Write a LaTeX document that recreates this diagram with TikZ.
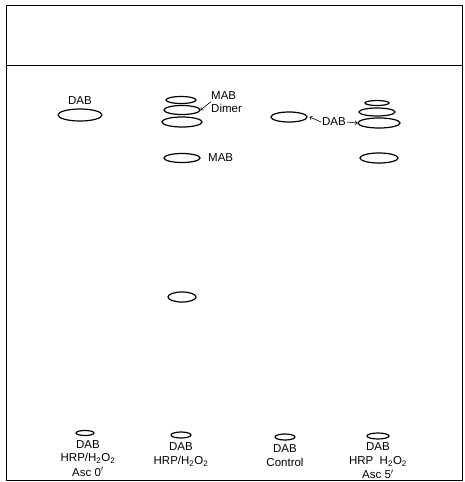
\documentclass[tikz,border=0pt]{standalone}
\usepackage{fontspec}
\setmainfont{Liberation Sans}
\usetikzlibrary{arrows.meta,positioning,shapes.geometric}

\begin{document}
\begin{tikzpicture}[x=1pt, y=-1pt,
  every node/.style={font=\fontsize{11.5}{13.5}\selectfont, inner sep=0pt},
  spot/.style args={#1x#2}{draw, ellipse, line width=1.2pt, minimum width=#1pt, minimum height=#2pt, inner sep=0pt},
  lane/.style={align=center},
  arrow/.style={-{Straight Barb[length=2pt]}, line width=0.6pt}
]
\useasboundingbox (0,0) rectangle (464,482);
% plate frame and solvent front
\draw[line width=1pt] (6,5) rectangle (462,480);
\draw[line width=1pt] (6,65) -- (462,65);

% lane 1
\node[spot=44x12] (a1) at (80,115) {};
\node[above=4pt of a1] (dabA) {DAB};

% lane 2
\node[spot=30x7] (b1) at (181,100) {};
\node[spot=36x9] (b2) at (182,110) {};
\node[spot=40x10] (b3) at (182,122) {};
\node[spot=36x9] (b4) at (182,158) {};
\node[spot=28x10] (b5) at (182,297) {};
\node[anchor=west] (mabtop) at (211,96) {MAB};
\node[anchor=west] (dimer) at (211,108) {Dimer};
\node[anchor=west] (mab) at (208,158) {MAB};

% lane 3
\node[spot=36x10] (c1) at (289,117) {};
\node (dabC) at (334,122) {DAB};

% lane 4
\node[spot=24x5] (d1) at (377,103) {};
\node[spot=36x8] (d2) at (377,112) {};
\node[spot=42x10] (d3) at (379,123) {};
\node[spot=38x10] (d4) at (379,158) {};

% origin spots
\node[spot=18x5] (o1) at (85,433) {};
\node[spot=20x6] (o2) at (181,435) {};
\node[spot=20x6] (o3) at (285,437) {};
\node[spot=22x6] (o4) at (378,436) {};
\node[lane, below=4pt of o1, xshift=3pt] (lab1) {DAB\\HRP/H\textsubscript{2}O\textsubscript{2}\\[1pt]Asc 0$'$};
\node[lane, below=4pt of o2] (lab2) {DAB\\HRP/H\textsubscript{2}O\textsubscript{2}};
\node[lane, below=4pt of o3] (lab3) {DAB\\Control};
\node[lane, below=3pt of o4] (lab4) {DAB\\HRP\ \ H\textsubscript{2}O\textsubscript{2}\\[1pt]Asc 5$'$};

\draw[arrow] ([yshift=2pt]dimer.north west) -- (b2.east);
\draw[arrow] ([xshift=-1pt]dabC.west) -- ([xshift=2pt]c1.east);
\draw[arrow] ([xshift=1pt]dabC.east) -- (d3.west);
\end{tikzpicture}
\end{document}
